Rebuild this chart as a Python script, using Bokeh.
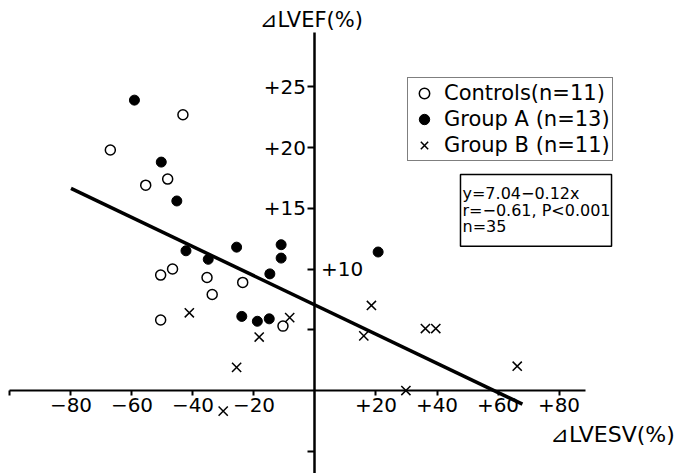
from bokeh.plotting import figure
from bokeh.models import (Range1d, FixedTicker, LinearAxis, Legend, LegendItem, Label)
from bokeh.embed import file_html
from bokeh.resources import INLINE
import numpy as np

# ---- data ----
ctrl_x = [-67.1, -55.5, -48.3, -43.3, -50.6, -46.7, -35.4, -33.7, -23.7, -50.6, -10.5]
ctrl_y = [19.8, 16.9, 17.4, 22.7, 9.5, 10.0, 9.3, 7.9, 8.9, 5.8, 5.3]
grpA_x = [-59.2, -50.4, -45.3, -42.3, -35.0, -25.7, -11.1, -11.1, -14.8, -24.0, -18.9, -15.0, 20.7]
grpA_y = [23.9, 18.8, 15.6, 11.5, 10.8, 11.8, 12.0, 10.9, 9.6, 6.1, 5.7, 5.9, 11.4]
grpB_x = [-41.2, -8.3, -18.3, -25.7, -30.1, 16.0, 18.5, 36.2, 39.6, 29.8, 66.3]
grpB_y = [6.4, 6.0, 4.4, 1.9, -1.7, 4.5, 7.0, 5.1, 5.1, 0.0, 2.0]

fit_intercept = 7.04
fit_slope = -0.12
fit_x = [-80, 68]

x_ticks = [-100, -80, -60, -40, -20, 20, 40, 60, 80]
x_tick_labels = ["", "−80", "−60", "−40", "−20", "+20", "+40", "+60", "+80"]
y_ticks = [-5, 5, 10, 15, 20, 25]
y_tick_labels = ["", "", "", "+15", "+20", "+25"]
y_right_ticks = [10]
y_right_labels = ["+10"]

legend_labels = ["Controls(n=11)", "Group A (n=13)", "Group B (n=11)"]
stats_text = "y=7.04−0.12x\nr=−0.61, P<0.001\nn=35"
x_title = "⊿LVESV(%)"
y_title = "⊿LVEF(%)"

FONT = "DejaVu Sans"

W, H = 686, 473
p = figure(width=W, height=H, output_backend="svg", toolbar_location=None,
           x_range=Range1d(-103.11, 121.8), y_range=Range1d(-6.83, 32.1),
           min_border=0, min_border_left=0, min_border_right=0,
           min_border_top=0, min_border_bottom=0)
p.outline_line_color = None
p.grid.visible = False
p.background_fill_color = "white"
p.border_fill_color = "white"

# x axis through origin
xa = p.xaxis[0]
xa.fixed_location = 0
xa.ticker = FixedTicker(ticks=x_ticks)
xa.major_label_overrides = {t: l for t, l in zip(x_ticks, x_tick_labels)}
xa.bounds = (-100, 88.7)
xa.axis_line_width = 2
xa.axis_line_color = "black"
xa.major_tick_line_width = 2
xa.major_tick_out = 5
xa.major_tick_in = 0
xa.minor_tick_line_color = None
xa.major_label_standoff = 2
xa.major_label_text_font = FONT
xa.major_label_text_font_size = "20px"
xa.major_label_text_color = "black"

# y axis through origin
ya = p.yaxis[0]
ya.fixed_location = 0
ya.ticker = FixedTicker(ticks=y_ticks)
ya.major_label_overrides = {t: l for t, l in zip(y_ticks, y_tick_labels)}
ya.bounds = (-7, 29.5)
ya.axis_line_width = 2.5
ya.axis_line_color = "black"
ya.major_tick_line_width = 2
ya.major_tick_out = 7
ya.major_tick_in = 0
ya.minor_tick_line_color = None
ya.major_label_standoff = 2
ya.major_label_text_font = FONT
ya.major_label_text_font_size = "20px"
ya.major_label_text_color = "black"

# +10 label on the right of the vertical axis
yr = LinearAxis(fixed_location=0, ticker=FixedTicker(ticks=y_right_ticks),
                major_label_overrides={t: l for t, l in zip(y_right_ticks, y_right_labels)},
                axis_line_color=None, major_tick_out=0, major_tick_in=0,
                minor_tick_line_color=None, major_label_standoff=6,
                major_label_text_font=FONT, major_label_text_font_size="20px",
                major_label_text_color="black")
p.add_layout(yr, "right")

# regression line
fx = np.array(fit_x, dtype=float)
p.line(fx, fit_intercept + fit_slope * fx, line_color="black", line_width=3.5)

r_ctrl = p.scatter(ctrl_x, ctrl_y, marker="circle", size=10, fill_color="white",
                   line_color="black", line_width=1.5)
r_a = p.scatter(grpA_x, grpA_y, marker="circle", size=10, fill_color="black",
                line_color="black", line_width=1)
r_b = p.scatter(grpB_x, grpB_y, marker="x", size=13, line_color="black", line_width=1.5)

legend = Legend(items=[LegendItem(label=legend_labels[0], renderers=[r_ctrl]),
                       LegendItem(label=legend_labels[1], renderers=[r_a]),
                       LegendItem(label=legend_labels[2], renderers=[r_b])],
                location=(407, 312), label_text_font=FONT, label_text_font_size="21px",
                label_text_color="black", glyph_width=28, glyph_height=26,
                label_standoff=6, padding=2, spacing=0, margin=0,
                border_line_color="black", border_line_width=1.5,
                background_fill_color="white", background_fill_alpha=1)
p.add_layout(legend, "center")

stats = Label(x=47.7, y=17.78, text=stats_text, text_align="left", text_baseline="top",
              text_font=FONT, text_font_size="16px", text_color="black",
              text_line_height=0.86,
              border_line_color="black", border_line_width=1.5,
              background_fill_color="white",
              padding=dict(left=2, right=1, top=10, bottom=10))
p.add_layout(stats)

p.add_layout(Label(x=-1.2, y=30.5, text=y_title, text_align="center", text_baseline="middle",
                   text_font=FONT, text_font_size="21px", text_color="black"))
p.add_layout(Label(x=77.2, y=-3.62, text=x_title, text_align="left", text_baseline="middle",
                   text_font=FONT, text_font_size="22px", text_color="black"))

open("out.html", "w").write(file_html(p, INLINE))
